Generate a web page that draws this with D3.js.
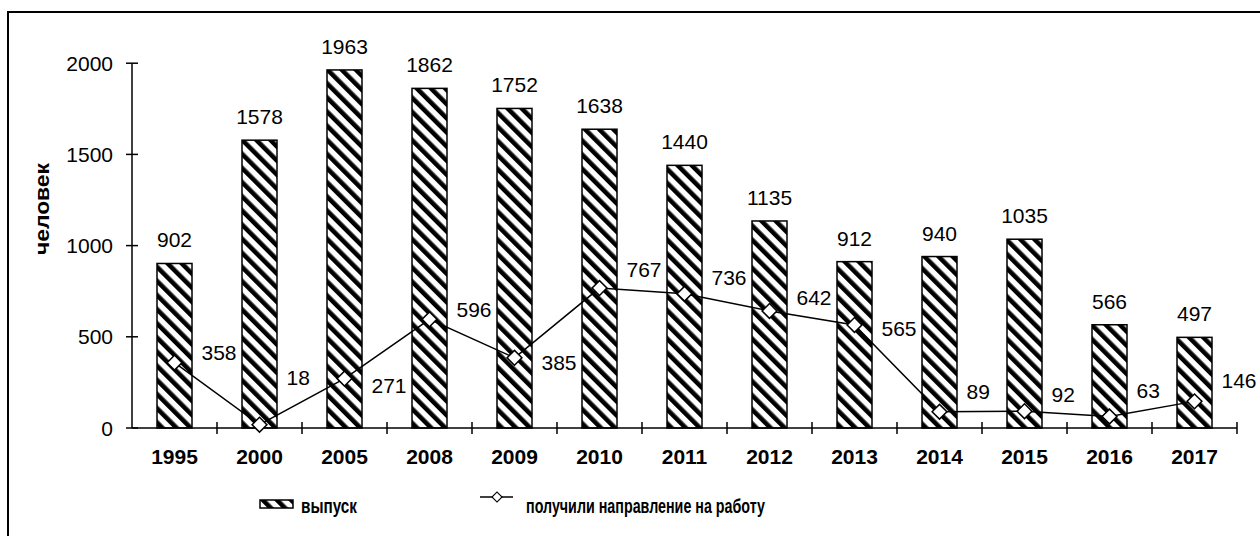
<!DOCTYPE html>
<html>
<head>
<meta charset="utf-8">
<title>Выпуск и направление на работу</title>
<script src="https://d3js.org/d3.v7.min.js"></script>
<style>
  body { margin: 0; background: #fff; }
  text { font-family: "Liberation Sans", Arial, sans-serif; fill: #000; }
</style>
</head>
<body>
<div id="chart"></div>
<script>
// данные
const years = ["1995", "2000", "2005", "2008", "2009", "2010", "2011", "2012", "2013", "2014", "2015", "2016", "2017"];
const vypusk = [902, 1578, 1963, 1862, 1752, 1638, 1440, 1135, 912, 940, 1035, 566, 497];
const napravleno = [358, 18, 271, 596, 385, 767, 736, 642, 565, 89, 92, 63, 146];
const yTicks = [0, 500, 1000, 1500, 2000];

// сдвиг подписей линии по вертикали (подписи в оригинале передвинуты вручную)
const lineLabelDy = [-3, -40, 14, -2, 12, -11, -9, -6, 11, -13, -9, -19, -13];

const W = 1260, H = 536;
const x0 = 132, x1 = 1237, yBase = 428, yTop = 63.2;

const svg = d3.select("#chart").append("svg")
  .attr("width", W).attr("height", H);

// штриховка
const defs = svg.append("defs");
const pat = defs.append("pattern")
  .attr("id", "hatch")
  .attr("patternUnits", "userSpaceOnUse")
  .attr("width", 10).attr("height", 10)
  .attr("patternTransform", "rotate(-45)");
pat.append("rect").attr("width", 10).attr("height", 10).attr("fill", "#fff");
pat.append("rect").attr("x", 0).attr("width", 4.6).attr("height", 10).attr("fill", "#000");

// рамка
svg.append("rect")
  .attr("x", 8).attr("y", 12)
  .attr("width", 1270).attr("height", 560)
  .attr("fill", "none").attr("stroke", "#000").attr("stroke-width", 2);

const x = d3.scaleBand().domain(years).range([x0, x1]);
const y = d3.scaleLinear().domain([0, 2000]).range([yBase, yTop]);

const barW = 35;

// столбцы
svg.selectAll("rect.bar")
  .data(vypusk)
  .enter()
  .append("rect")
  .attr("class", "bar")
  .attr("x", (d, i) => x(years[i]) + x.bandwidth() / 2 - barW / 2)
  .attr("y", d => y(d))
  .attr("width", barW)
  .attr("height", d => yBase - y(d))
  .attr("fill", "url(#hatch)")
  .attr("stroke", "#000")
  .attr("stroke-width", 1.5);

svg.selectAll("text.barlab")
  .data(vypusk)
  .enter()
  .append("text")
  .attr("class", "barlab")
  .attr("x", (d, i) => x(years[i]) + x.bandwidth() / 2)
  .attr("y", d => y(d) - 16)
  .attr("text-anchor", "middle")
  .attr("font-size", "21px")
  .text(d => d);

// оси
const yAxis = svg.append("g");
yAxis.append("line")
  .attr("x1", x0).attr("x2", x0)
  .attr("y1", yTop).attr("y2", yBase)
  .attr("stroke", "#000").attr("stroke-width", 1.5);
yAxis.selectAll("line.tick")
  .data(yTicks)
  .enter()
  .append("line")
  .attr("class", "tick")
  .attr("x1", x0 - 6).attr("x2", x0 + 6)
  .attr("y1", d => y(d)).attr("y2", d => y(d))
  .attr("stroke", "#000").attr("stroke-width", 1.5);
yAxis.selectAll("text")
  .data(yTicks)
  .enter()
  .append("text")
  .attr("x", 113)
  .attr("y", d => y(d))
  .attr("dy", "0.36em")
  .attr("text-anchor", "end")
  .attr("font-size", "21px")
  .text(d => d);

const xAxis = svg.append("g");
xAxis.append("line")
  .attr("x1", x0).attr("x2", x1)
  .attr("y1", yBase).attr("y2", yBase)
  .attr("stroke", "#000").attr("stroke-width", 1.5);
xAxis.selectAll("line.tick")
  .data(years)
  .enter()
  .append("line")
  .attr("class", "tick")
  .attr("x1", d => x(d) + x.bandwidth()).attr("x2", d => x(d) + x.bandwidth())
  .attr("y1", yBase - 6).attr("y2", yBase + 6)
  .attr("stroke", "#000").attr("stroke-width", 1.5);
xAxis.selectAll("text")
  .data(years)
  .enter()
  .append("text")
  .attr("x", d => x(d) + x.bandwidth() / 2)
  .attr("y", 464)
  .attr("text-anchor", "middle")
  .attr("font-size", "21px")
  .attr("font-weight", "bold")
  .text(d => d);

// подпись оси
svg.append("text")
  .attr("transform", "translate(49,209) rotate(-90)")
  .attr("text-anchor", "middle")
  .attr("font-size", "21px")
  .attr("font-weight", "bold")
  .attr("textLength", 92)
  .attr("lengthAdjust", "spacingAndGlyphs")
  .text("человек");

// линия
const line = d3.line()
  .x((d, i) => x(years[i]) + x.bandwidth() / 2)
  .y(d => y(d));

svg.append("path")
  .datum(napravleno)
  .attr("d", line)
  .attr("fill", "none")
  .attr("stroke", "#000")
  .attr("stroke-width", 1.5);

const diamond = d3.symbol().type(d3.symbolDiamond2 || d3.symbolSquare2).size(110);
svg.selectAll("path.pt")
  .data(napravleno)
  .enter()
  .append("path")
  .attr("class", "pt")
  .attr("transform", (d, i) => "translate(" + (x(years[i]) + x.bandwidth() / 2) + "," + y(d) + ") rotate(45)")
  .attr("d", d3.symbol().type(d3.symbolSquare).size(110))
  .attr("fill", "#fff")
  .attr("stroke", "#000")
  .attr("stroke-width", 1.5);

svg.selectAll("text.linelab")
  .data(napravleno)
  .enter()
  .append("text")
  .attr("class", "linelab")
  .attr("x", (d, i) => x(years[i]) + x.bandwidth() / 2 + 27)
  .attr("y", (d, i) => y(d) + lineLabelDy[i])
  .attr("font-size", "21px")
  .text(d => d);

// легенда
svg.append("rect")
  .attr("x", 260).attr("y", 500)
  .attr("width", 33).attr("height", 8)
  .attr("fill", "url(#hatch)")
  .attr("stroke", "#000").attr("stroke-width", 1.5);
svg.append("text")
  .attr("x", 301).attr("y", 513)
  .attr("font-size", "20px")
  .attr("font-weight", "bold")
  .attr("textLength", 56)
  .attr("lengthAdjust", "spacingAndGlyphs")
  .text("выпуск");

svg.append("line")
  .attr("x1", 480).attr("x2", 513)
  .attr("y1", 497).attr("y2", 497)
  .attr("stroke", "#000").attr("stroke-width", 1.5);
svg.append("path")
  .attr("transform", "translate(497,497) rotate(45)")
  .attr("d", d3.symbol().type(d3.symbolSquare).size(50))
  .attr("fill", "#fff")
  .attr("stroke", "#000")
  .attr("stroke-width", 1.2);
svg.append("text")
  .attr("x", 526).attr("y", 513)
  .attr("font-size", "20px")
  .attr("font-weight", "bold")
  .attr("textLength", 239)
  .attr("lengthAdjust", "spacingAndGlyphs")
  .text("получили направление на работу");
</script>
</body>
</html>
